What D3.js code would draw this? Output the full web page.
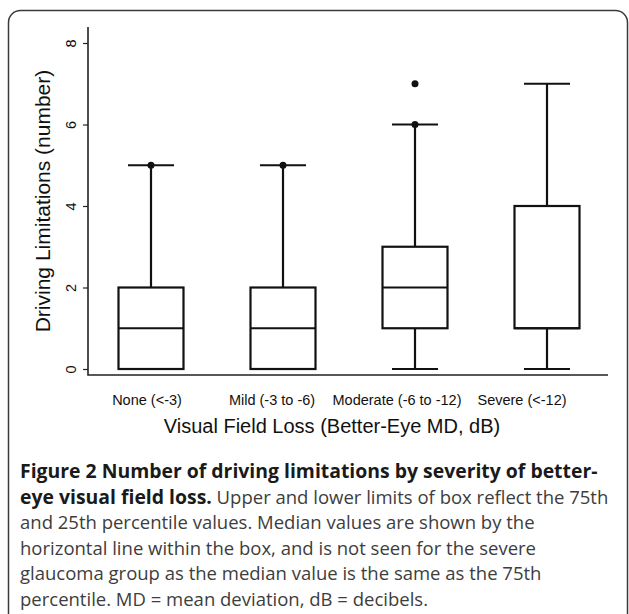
<!DOCTYPE html>
<html>
<head>
<meta charset="utf-8">
<script src="https://cdn.jsdelivr.net/npm/d3@7"></script>
<style>
  body { margin: 0; background: #fff; }
  svg { display: block; }
</style>
</head>
<body>
<div id="chart"></div>
<script>
// groups (better-eye MD)
const categories = ['None (<-3)', 'Mild (-3 to -6)', 'Moderate (-6 to -12)', 'Severe (<-12)'];
const whiskerLow = [0, 0, 0, 0];
const q1 = [0, 0, 1, 1];
const median = [1, 1, 2, 1];
const q3 = [2, 2, 3, 4];
const whiskerHigh = [5, 5, 6, 7];
const outliers = [[5], [5], [6, 7], []];
const yTicks = [0, 2, 4, 6, 8];

const xTitle = 'Visual Field Loss (Better-Eye MD, dB)';
const yTitle = 'Driving Limitations (number)';
const captionLines = [
  [{ t: 'Figure 2 Number of driving limitations by severity of better-', b: true }],
  [{ t: 'eye visual field loss.', b: true }, { t: ' Upper and lower limits of box reflect the 75th', b: false }],
  [{ t: 'and 25th percentile values. Median values are shown by the', b: false }],
  [{ t: 'horizontal line within the box, and is not seen for the severe', b: false }],
  [{ t: 'glaucoma group as the median value is the same as the 75th', b: false }],
  [{ t: 'percentile. MD = mean deviation, dB = decibels.', b: false }]
];

const width = 629, height = 614;
const plot = { left: 88, right: 608, top: 27, bottom: 375 };

const svg = d3.select('#chart').append('svg')
  .attr('width', width)
  .attr('height', height);

// rounded frame
svg.append('rect')
  .attr('x', 8.5).attr('y', 10.5)
  .attr('width', 619).attr('height', 640)
  .attr('rx', 12)
  .attr('fill', 'none')
  .attr('stroke', '#3a3a3a')
  .attr('stroke-width', 1.5);

const y = d3.scaleLinear().domain([0, 8]).range([369, 43]);
const x = d3.scalePoint().domain(categories).range([151, 547]);
const xLab = d3.scalePoint().domain(categories).range([147, 522]);
const boxW = 65, capW = 46;

const g = svg.append('g').attr('stroke', '#111').attr('stroke-width', 2.2).attr('fill', 'none');

// L-shaped axes
svg.append('path')
  .attr('d', `M${plot.left},${plot.top}V${plot.bottom}H${plot.right}`)
  .attr('fill', 'none').attr('stroke', '#222').attr('stroke-width', 1.6);

const yAxis = svg.append('g')
  .attr('transform', `translate(${plot.left},0)`)
  .call(d3.axisLeft(y).tickValues(yTicks).tickSize(5).tickSizeOuter(0));
yAxis.select('.domain').remove();
yAxis.selectAll('line').attr('stroke', '#222').attr('stroke-width', 1.2);
yAxis.selectAll('text')
  .attr('transform', 'rotate(-90)')
  .attr('x', 0).attr('y', -12).attr('dy', 0)
  .attr('text-anchor', 'middle')
  .attr('font-family', '"Liberation Sans", Arial, sans-serif')
  .attr('font-size', 14.5)
  .attr('fill', '#111');

const rows = categories.map((c, i) => ({
  c, lo: whiskerLow[i], q1: q1[i], med: median[i], q3: q3[i], hi: whiskerHigh[i], out: outliers[i]
}));

const box = g.selectAll('g.box').data(rows).join('g').attr('class', 'box');
// whiskers
box.append('line')
  .attr('x1', d => x(d.c)).attr('x2', d => x(d.c))
  .attr('y1', d => y(d.q3)).attr('y2', d => y(d.hi));
box.append('line')
  .attr('x1', d => x(d.c)).attr('x2', d => x(d.c))
  .attr('y1', d => y(d.q1)).attr('y2', d => y(d.lo));
// caps
box.append('line')
  .attr('x1', d => x(d.c) - capW / 2).attr('x2', d => x(d.c) + capW / 2)
  .attr('y1', d => y(d.hi)).attr('y2', d => y(d.hi));
box.append('line')
  .attr('x1', d => x(d.c) - capW / 2).attr('x2', d => x(d.c) + capW / 2)
  .attr('y1', d => y(d.lo)).attr('y2', d => y(d.lo));
// box
box.append('rect')
  .attr('x', d => x(d.c) - boxW / 2)
  .attr('y', d => y(d.q3))
  .attr('width', boxW)
  .attr('height', d => y(d.q1) - y(d.q3))
  .attr('fill', '#fff');
// median
box.append('line')
  .attr('x1', d => x(d.c) - boxW / 2).attr('x2', d => x(d.c) + boxW / 2)
  .attr('y1', d => y(d.med)).attr('y2', d => y(d.med));
// outliers
box.selectAll('circle')
  .data(d => d.out.map(v => ({ c: d.c, v })))
  .join('circle')
  .attr('cx', d => x(d.c)).attr('cy', d => y(d.v))
  .attr('r', 3.5).attr('fill', '#111').attr('stroke', 'none');

// category labels
svg.append('g').selectAll('text').data(categories).join('text')
  .attr('x', d => xLab(d)).attr('y', 405)
  .attr('text-anchor', 'middle')
  .attr('font-family', '"Liberation Sans", Arial, sans-serif')
  .attr('font-size', 14.5)
  .attr('fill', '#111')
  .text(d => d);

svg.append('text')
  .attr('x', 332).attr('y', 433)
  .attr('text-anchor', 'middle')
  .attr('font-family', '"Liberation Sans", Arial, sans-serif')
  .attr('font-size', 20)
  .attr('fill', '#111')
  .text(xTitle);

svg.append('text')
  .attr('transform', 'translate(50,201) rotate(-90)')
  .attr('text-anchor', 'middle')
  .attr('font-family', '"Liberation Sans", Arial, sans-serif')
  .attr('font-size', 21)
  .attr('fill', '#111')
  .text(yTitle);

// caption
const cap = svg.append('text')
  .attr('font-family', '"Open Sans", "Noto Sans", sans-serif');
captionLines.forEach((line, i) => {
  line.forEach((seg, j) => {
    const ts = cap.append('tspan').text(seg.t)
      .attr('font-weight', seg.b ? 700 : 400)
      .attr('font-size', seg.b ? 19.4 : 18.5)
      .attr('fill', seg.b ? '#1a1a1a' : '#3d3d3d');
    if (j === 0) ts.attr('x', 20).attr('y', 478 + i * 25.6);
  });
});
</script>
</body>
</html>
